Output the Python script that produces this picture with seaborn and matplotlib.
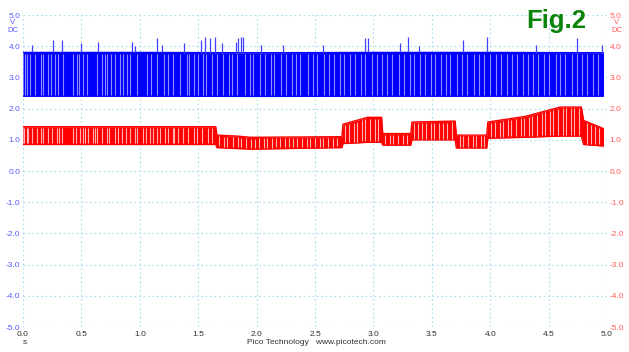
import numpy as np
import pandas as pd
import seaborn as sns
import matplotlib.pyplot as plt

# channel A (blue) band: time, top and bottom level in volts
blue_t = [0.00, 1.00, 2.00, 3.00, 4.00, 4.97]
blue_hi = [3.80, 3.80, 3.79, 3.80, 3.80, 3.79]
blue_lo = [2.40, 2.40, 2.39, 2.40, 2.40, 2.40]

# blue spikes above the band
spike_t = [0.08, 0.26, 0.33, 0.50, 0.64, 0.93, 0.96, 1.15, 1.19, 1.38, 1.52, 1.56,
           1.60, 1.64, 1.70, 1.82, 1.84, 1.87, 1.88, 2.04, 2.23, 2.57, 2.93, 2.95,
           3.23, 3.30, 3.39, 3.77, 3.97, 4.39, 4.74, 4.96]
spike_v = [4.05, 4.20, 4.20, 4.10, 4.15, 4.15, 4.00, 4.25, 4.05, 4.10, 4.20, 4.30,
           4.25, 4.30, 4.10, 4.15, 4.25, 4.30, 4.30, 4.05, 4.05, 4.05, 4.25, 4.25,
           4.10, 4.30, 4.00, 4.20, 4.30, 4.05, 4.25, 4.05]

# light gaps inside the blue band
blue_gaps = [0.02, 0.03, 0.06, 0.10, 0.15, 0.17, 0.21, 0.24, 0.27, 0.30, 0.34, 0.43,
             0.46, 0.48, 0.51, 0.55, 0.63, 0.68, 0.70, 0.72, 0.75, 0.79, 0.83, 0.86,
             0.89, 0.92, 0.98, 1.06, 1.10, 1.15, 1.21, 1.24, 1.28, 1.34, 1.40, 1.42,
             1.46, 1.50, 1.54, 1.57, 1.62, 1.66, 1.71, 1.76, 1.79, 1.83, 1.90, 1.94,
             1.97, 2.03, 2.07, 2.12, 2.15, 2.21, 2.25, 2.30, 2.34, 2.37, 2.44, 2.48,
             2.52, 2.58, 2.62, 2.66, 2.71, 2.75, 2.80, 2.84, 2.89, 2.93, 2.99, 3.03,
             3.07, 3.12, 3.16, 3.22, 3.26, 3.31, 3.35, 3.40, 3.44, 3.49, 3.53, 3.58,
             3.62, 3.66, 3.72, 3.76, 3.80, 3.86, 3.90, 3.95, 4.00, 4.05, 4.09, 4.14,
             4.19, 4.23, 4.28, 4.32, 4.37, 4.41, 4.46, 4.50, 4.56, 4.60, 4.64, 4.70,
             4.74, 4.79, 4.83, 4.88, 4.92]

# channel B (red) band
red_t = [0.00, 1.65, 1.66, 1.83, 1.95, 2.73, 2.74, 2.95, 3.07, 3.08, 3.32, 3.33,
         3.70, 3.71, 3.97, 3.98, 4.30, 4.60, 4.78, 4.80, 4.97]
red_hi = [1.42, 1.42, 1.15, 1.12, 1.08, 1.10, 1.50, 1.72, 1.72, 1.20, 1.20, 1.57,
          1.60, 1.15, 1.15, 1.57, 1.75, 2.05, 2.05, 1.62, 1.36]
red_lo = [0.85, 0.85, 0.75, 0.72, 0.70, 0.75, 0.88, 0.92, 0.92, 0.83, 0.83, 1.00,
          1.00, 0.74, 0.74, 1.05, 1.08, 1.12, 1.12, 0.85, 0.80]

red_gaps = [0.01, 0.03, 0.04, 0.08, 0.12, 0.15, 0.17, 0.21, 0.25, 0.29, 0.31, 0.33,
            0.43, 0.45, 0.49, 0.51, 0.53, 0.56, 0.60, 0.62, 0.63, 0.68, 0.72, 0.74,
            0.79, 0.81, 0.85, 0.88, 0.92, 0.96, 0.98, 1.03, 1.05, 1.09, 1.11, 1.15,
            1.17, 1.22, 1.24, 1.28, 1.29, 1.33, 1.37, 1.41, 1.46, 1.49, 1.53, 1.58,
            1.62, 1.68, 1.72, 1.75, 1.80, 1.84, 1.87, 1.91, 1.95, 1.99, 2.02, 2.06,
            2.09, 2.13, 2.17, 2.20, 2.24, 2.28, 2.31, 2.35, 2.39, 2.43, 2.46, 2.50,
            2.54, 2.57, 2.61, 2.65, 2.69, 2.76, 2.79, 2.83, 2.86, 2.90, 2.93, 2.97,
            3.01, 3.04, 3.10, 3.14, 3.17, 3.21, 3.25, 3.29, 3.35, 3.38, 3.42, 3.45,
            3.49, 3.52, 3.56, 3.60, 3.63, 3.67, 3.74, 3.77, 3.81, 3.85, 3.88, 3.92,
            3.95, 4.01, 4.04, 4.08, 4.11, 4.15, 4.18, 4.22, 4.26, 4.29, 4.33, 4.36,
            4.40, 4.44, 4.47, 4.51, 4.54, 4.58, 4.62, 4.65, 4.69, 4.72, 4.76, 4.83,
            4.86, 4.90, 4.93]

x_ticks = [0.0, 0.5, 1.0, 1.5, 2.0, 2.5, 3.0, 3.5, 4.0, 4.5, 5.0]
y_ticks = [-5.0, -4.0, -3.0, -2.0, -1.0, 0.0, 1.0, 2.0, 3.0, 4.0, 5.0]

sns.set_style("white")
plt.rcParams["font.family"] = ["Liberation Sans", "DejaVu Sans"]

BLUE = "#0000ff"
RED = "#ff0000"

fig = plt.figure(figsize=(6.29, 3.52), dpi=100)
ax = fig.add_axes([23 / 629, 1 - 327 / 352, 584 / 629, 312 / 352])

blue_df = pd.DataFrame({"t": blue_t, "hi": blue_hi, "lo": blue_lo})
red_df = pd.DataFrame({"t": red_t, "hi": red_hi, "lo": red_lo})

# bands
for df, col, gaps, gcol in [(blue_df, BLUE, blue_gaps, "#8c8cff"),
                            (red_df, RED, red_gaps, "#ffb4b4")]:
    ax.fill_between(df["t"], df["lo"], df["hi"], color=col, lw=0, zorder=3)
    sns.lineplot(data=df, x="t", y="hi", ax=ax, color=col, lw=1.0, zorder=4)
    sns.lineplot(data=df, x="t", y="lo", ax=ax, color=col, lw=1.0, zorder=4)
    g_lo = np.interp(gaps, df["t"], df["lo"]) + 0.04
    g_hi = np.interp(gaps, df["t"], df["hi"]) - 0.04
    ax.vlines(gaps, g_lo, g_hi, color=gcol, lw=0.8, zorder=5)

# blue spikes
ax.vlines(spike_t, np.interp(spike_t, blue_t, blue_hi), spike_v,
          color="#4040ff", lw=0.9, zorder=4)

ax.set_xlim(0, 5)
ax.set_ylim(-5, 5)
ax.set_xticks(x_ticks)
ax.set_yticks(y_ticks)
ax.set_xticklabels([f"{v:.1f}" for v in x_ticks])
ax.set_yticklabels([f"{v:.1f}" for v in y_ticks])
ax.set_xlabel("")
ax.set_ylabel("")
ax.grid(True, color="#a8dcee", ls=(0, (1.5, 2.5)), lw=0.8, zorder=0)
for s in ax.spines.values():
    s.set_visible(False)
ax.tick_params(axis="both", length=0, labelsize=6)
ax.tick_params(axis="x", pad=3, labelcolor="#303030")
ax.tick_params(axis="y", pad=2, labelright=True)
for tick in ax.yaxis.get_major_ticks():
    tick.label1.set_color("#5a5aff")
    tick.label2.set_color("#ff5a5a")

# unit labels
for xp, c in [(13, "#5a5aff"), (617, "#ff5a5a")]:
    fig.text(xp / 629, 1 - 22.5 / 352, "V", color=c, fontsize=5.5, ha="center", va="center")
    fig.text(xp / 629, 1 - 30 / 352, "DC", color=c, fontsize=5.5, ha="center", va="center")
fig.text(25 / 629, 1 - 343 / 352, "s", color="#303030", fontsize=6, ha="center", va="center")
fig.text(316 / 629, 1 - 343 / 352, "Pico Technology   www.picotech.com",
         color="#303030", fontsize=6, ha="center", va="center")
fig.text(556 / 629, 1 - 21 / 352, "Fig.2", color="#088408", fontsize=18.5,
         fontweight="bold", ha="center", va="center")

fig.savefig("out.png", dpi=100)
